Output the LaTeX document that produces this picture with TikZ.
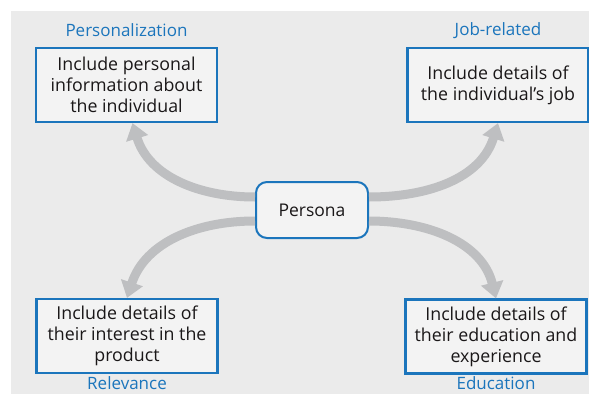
\documentclass[tikz,border=0pt]{standalone}
\usepackage{fontspec}
\setmainfont{Open Sans}
\usepackage{tikz}
\usetikzlibrary{arrows.meta,positioning}

\definecolor{bgGrey}{HTML}{EBEBEB}
\definecolor{boxFill}{HTML}{F3F3F3}
\definecolor{boxBlue}{HTML}{1B75BC}
\definecolor{arrowGrey}{HTML}{BEBFC1}
\definecolor{textDark}{HTML}{1A1718}

\begin{document}
\begin{tikzpicture}[x=1pt,y=-1pt,
    flow/.style={draw=arrowGrey,line width=9pt,
      -{Triangle[width=22pt,length=16pt]}},
    topic/.style={rectangle,draw=boxBlue,line width=2.2pt,fill=boxFill,
      minimum width=181pt,minimum height=74pt,align=center,
      text=textDark,font=\fontsize{17.8}{21}\selectfont},
    hub/.style={rectangle,rounded corners=11pt,draw=boxBlue,line width=2pt,
      fill=boxFill,minimum width=112pt,minimum height=56pt,
      text=textDark,font=\fontsize{17.5}{20}\selectfont},
    tag/.style={text=boxBlue,font=\fontsize{17}{20}\selectfont,inner sep=0pt}]

  \useasboundingbox (0,0) rectangle (589,394);
  \fill[bgGrey] (11,11) rectangle (589,394);

  \node[topic] (pers) at (126.5,85)  {Include personal\\information about\\the individual};
  \node[topic] (job)  at (498,85)    {Include details of\\the individual's job};
  \node[topic] (rel)  at (127,336)   {Include details of\\their interest in the\\product};
  \node[topic] (edu)  at (496,336.5) {Include details of\\their education and\\experience};

  \node[tag] [above=10pt of pers] {Personalization};
  \node[tag] [above=8pt of job]   {Job-related};
  \node[tag] [below=2.5pt of rel] {Relevance};
  \node[tag] [below=2pt of edu]   {Education};

  \node[hub] (persona) at (312,210) {Persona};

  \draw[flow] ([yshift=13pt]persona.west) to[out=180,in=-73] ([xshift=6pt]pers.south);
  \draw[flow] ([yshift=13pt]persona.east) to[out=0,in=-107] (job.south);
  \draw[flow] ([yshift=-11pt]persona.west) to[out=180,in=72] (rel.north);
  \draw[flow] ([yshift=-11pt]persona.east) to[out=0,in=104] (edu.north);
\end{tikzpicture}
\end{document}
